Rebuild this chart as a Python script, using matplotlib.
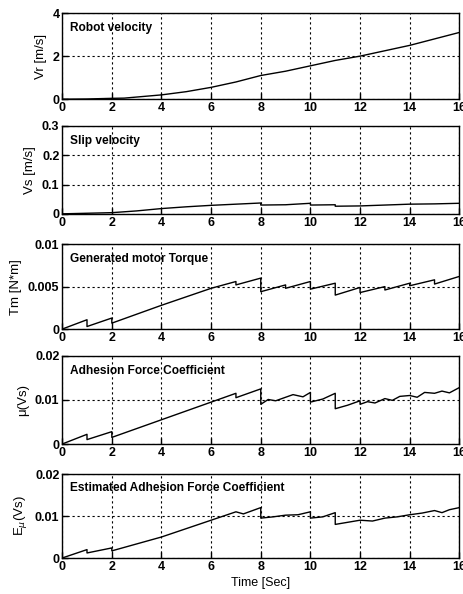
import matplotlib.pyplot as plt

plt.rcParams['font.family'] = ['Liberation Sans', 'DejaVu Sans']

# robot velocity Vr [m/s]
t_vr = [0, 1, 2, 2.5, 3, 4, 5, 6, 7, 8, 9, 10, 11, 12, 13, 14, 15, 16]
vr = [0, 0.01, 0.04, 0.05, 0.1, 0.2, 0.35, 0.55, 0.8, 1.1, 1.3, 1.55, 1.8, 2.0, 2.25, 2.5, 2.8, 3.1]

# slip velocity Vs [m/s]
t_vs = [0, 1, 2, 3, 4, 5, 6, 7, 8, 8, 9, 10, 10, 11, 11, 12, 13, 14, 15, 16]
vs = [0, 0.002, 0.004, 0.01, 0.018, 0.024, 0.029, 0.033, 0.037, 0.03, 0.031, 0.036,
      0.03, 0.031, 0.026, 0.027, 0.03, 0.033, 0.034, 0.036]

# generated motor torque Tm [N*m]
t_tm = [0, 1, 1, 2, 2, 4, 6, 7, 7, 8, 8, 9, 9, 10, 10, 11, 11, 12, 12, 13, 13,
        14, 14, 15, 15, 16]
tm = [0, 0.0011, 0.0003, 0.0013, 0.0007, 0.0028, 0.0048, 0.0056, 0.0052, 0.006, 0.0044,
      0.0052, 0.0048, 0.0056, 0.0047, 0.0054, 0.004, 0.0049, 0.0043, 0.005, 0.0046,
      0.0054, 0.0051, 0.0058, 0.0053, 0.0062]

# adhesion force coefficient mu(Vs)
t_mu = [0, 1, 1, 2, 2, 4, 6, 7, 7, 8, 8, 8.3, 8.6, 9, 9.3, 9.7, 10, 10, 10.5, 11, 11,
        11.5, 12, 12, 12.3, 12.6, 13, 13.3, 13.6, 14, 14.3, 14.6, 15, 15.3, 15.6, 16]
mu = [0, 0.0022, 0.001, 0.0028, 0.0015, 0.0055, 0.0095, 0.0115, 0.0105, 0.0125, 0.009,
      0.0101, 0.0098, 0.0106, 0.0112, 0.0107, 0.0117, 0.0095, 0.0102, 0.0115, 0.008,
      0.0088, 0.0098, 0.009, 0.0096, 0.0093, 0.0103, 0.0099, 0.0108, 0.011, 0.0106,
      0.0117, 0.0115, 0.012, 0.0116, 0.0128]

# estimated adhesion force coefficient
t_emu = [0, 1, 1, 2, 2, 4, 6, 7, 7.3, 8, 8, 8.5, 9, 9.5, 10, 10, 10.5, 11, 11, 11.5,
         12, 12.5, 13, 13.5, 14, 14.5, 15, 15.3, 15.6, 16]
emu = [0, 0.002, 0.0012, 0.0024, 0.0017, 0.005, 0.009, 0.011, 0.0105, 0.012, 0.0095,
       0.0098, 0.0102, 0.0103, 0.011, 0.0095, 0.0098, 0.0108, 0.008, 0.0085, 0.009,
       0.0088, 0.0095, 0.0098, 0.0103, 0.0107, 0.0113, 0.0108, 0.0115, 0.012]

panels = [
    (t_vr, vr, 'Vr [m/s]', [0, 2, 4], ['0', '2', '4'], 'Robot velocity'),
    (t_vs, vs, 'Vs [m/s]', [0, 0.1, 0.2, 0.3], ['0', '0.1', '0.2', '0.3'], 'Slip velocity'),
    (t_tm, tm, 'Tm [N*m]', [0, 0.005, 0.01], ['0', '0.005', '0.01'], 'Generated motor Torque'),
    (t_mu, mu, '\u03bc(Vs)', [0, 0.01, 0.02], ['0', '0.01', '0.02'], 'Adhesion Force Coefficient'),
    (t_emu, emu, 'E$_{\u03bc}$(Vs)', [0, 0.01, 0.02], ['0', '0.01', '0.02'],
     'Estimated Adhesion Force Coefficient'),
]

# axes boxes in figure fraction: bottom, height
boxes = [(0.833, 0.145), (0.640, 0.148), (0.446, 0.143), (0.2525, 0.1485), (0.0606, 0.1414)]

fig = plt.figure(figsize=(4.64, 5.94), dpi=100)

for (t, y, ylab, yt, ytl, title), (b, h) in zip(panels, boxes):
    ax = fig.add_axes([0.134, b, 0.856, h])
    ax.plot(t, y, color='black', lw=1)
    ax.set_xlim(0, 16)
    ax.set_ylim(yt[0], yt[-1])
    ax.set_xticks(range(0, 17, 2))
    ax.set_yticks(yt)
    ax.set_yticklabels(ytl)
    ax.grid(True, color='black', linestyle=(0, (2, 2.5)), lw=0.8)
    ax.tick_params(direction='in', length=4, width=1, labelsize=9, pad=2)
    for lab in ax.get_xticklabels() + ax.get_yticklabels():
        lab.set_fontweight('bold')
    for s in ax.spines.values():
        s.set_linewidth(1)
    ax.set_ylabel(ylab, fontsize=9.5, labelpad=4)
    ax.text(0.02, 0.83, title, transform=ax.transAxes, fontsize=8.6,
            fontweight='bold', va='center', ha='left')

ax.set_xlabel('Time [Sec]', fontsize=9, labelpad=3)

fig.savefig('out.png', dpi=100)
